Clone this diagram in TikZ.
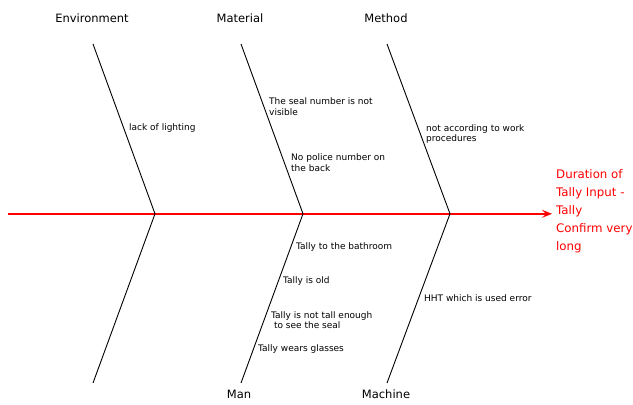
\documentclass[tikz,border=0pt]{standalone}
\usepackage{fontspec}
\setmainfont{DejaVu Sans}
\usetikzlibrary{arrows.meta}
\definecolor{spinered}{RGB}{255,0,0}
\begin{document}
\begin{tikzpicture}[x=1pt,y=-1pt,
  bone/.style={draw=black,line width=0.9pt},
  spine/.style={draw=spinered,line width=1.5pt,-{Stealth[length=10pt,width=8pt,inset=4pt]}},
  cat/.style={font=\fontsize{11.5}{14}\selectfont,inner sep=0pt},
  cause/.style={font=\fontsize{9}{10.8}\selectfont,inner sep=0pt,anchor=west,align=left},
  effect/.style={font=\fontsize{11.8}{18}\selectfont,text=spinered,inner sep=0pt,anchor=north west,align=left}]
\useasboundingbox (0,0) rectangle (633,405);
% spine junctions
\coordinate (s0) at (8,213.8);
\coordinate (j1) at (155,213.8);
\coordinate (j2) at (303,213.8);
\coordinate (j3) at (450,213.8);
% bone ends
\coordinate (t1) at (93,44);
\coordinate (t2) at (241,44);
\coordinate (t3) at (387,44);
\coordinate (b1) at (93,383);
\coordinate (b2) at (241,383);
\coordinate (b3) at (387,383);
% category labels
\node[cat] (env) at (92,18) {Environment};
\node[cat] (mat) at (240,18) {Material};
\node[cat] (met) at (386,18) {Method};
\node[cat] (man) at (239,394) {Man};
\node[cat] (mac) at (386,394) {Machine};
% effect
\node[effect] (eff) at (556,169) {Duration of\\Tally Input -\\Tally\\Confirm very\\long};
\coordinate (tip) at (552,213.8);
% spine
\draw[spine] (s0) -- (tip);
% bones
\draw[bone] (t1) -- (j1) -- (b1);
\draw[bone] (t2) -- (j2) -- (b2);
\draw[bone] (t3) -- (j3) -- (b3);
% causes
\node[cause] (c1) at (129,128) {lack of lighting};
\node[cause] (c2) at (269,106.5) {The seal number is not\\visible};
\node[cause] (c3) at (291,163) {No police number on\\the back};
\node[cause] (c4) at (426,134) {not according to work\\procedures};
\node[cause] (c5) at (296,247) {Tally to the bathroom};
\node[cause] (c6) at (283,281) {Tally is old};
\node[cause,font=\fontsize{9}{10}\selectfont] (c7) at (271,320) {Tally is not tall enough\\\ to see the seal};
\node[cause] (c8) at (258,349) {Tally wears glasses};
\node[cause] (c9) at (424,298) {HHT which is used error};
\end{tikzpicture}
\end{document}
